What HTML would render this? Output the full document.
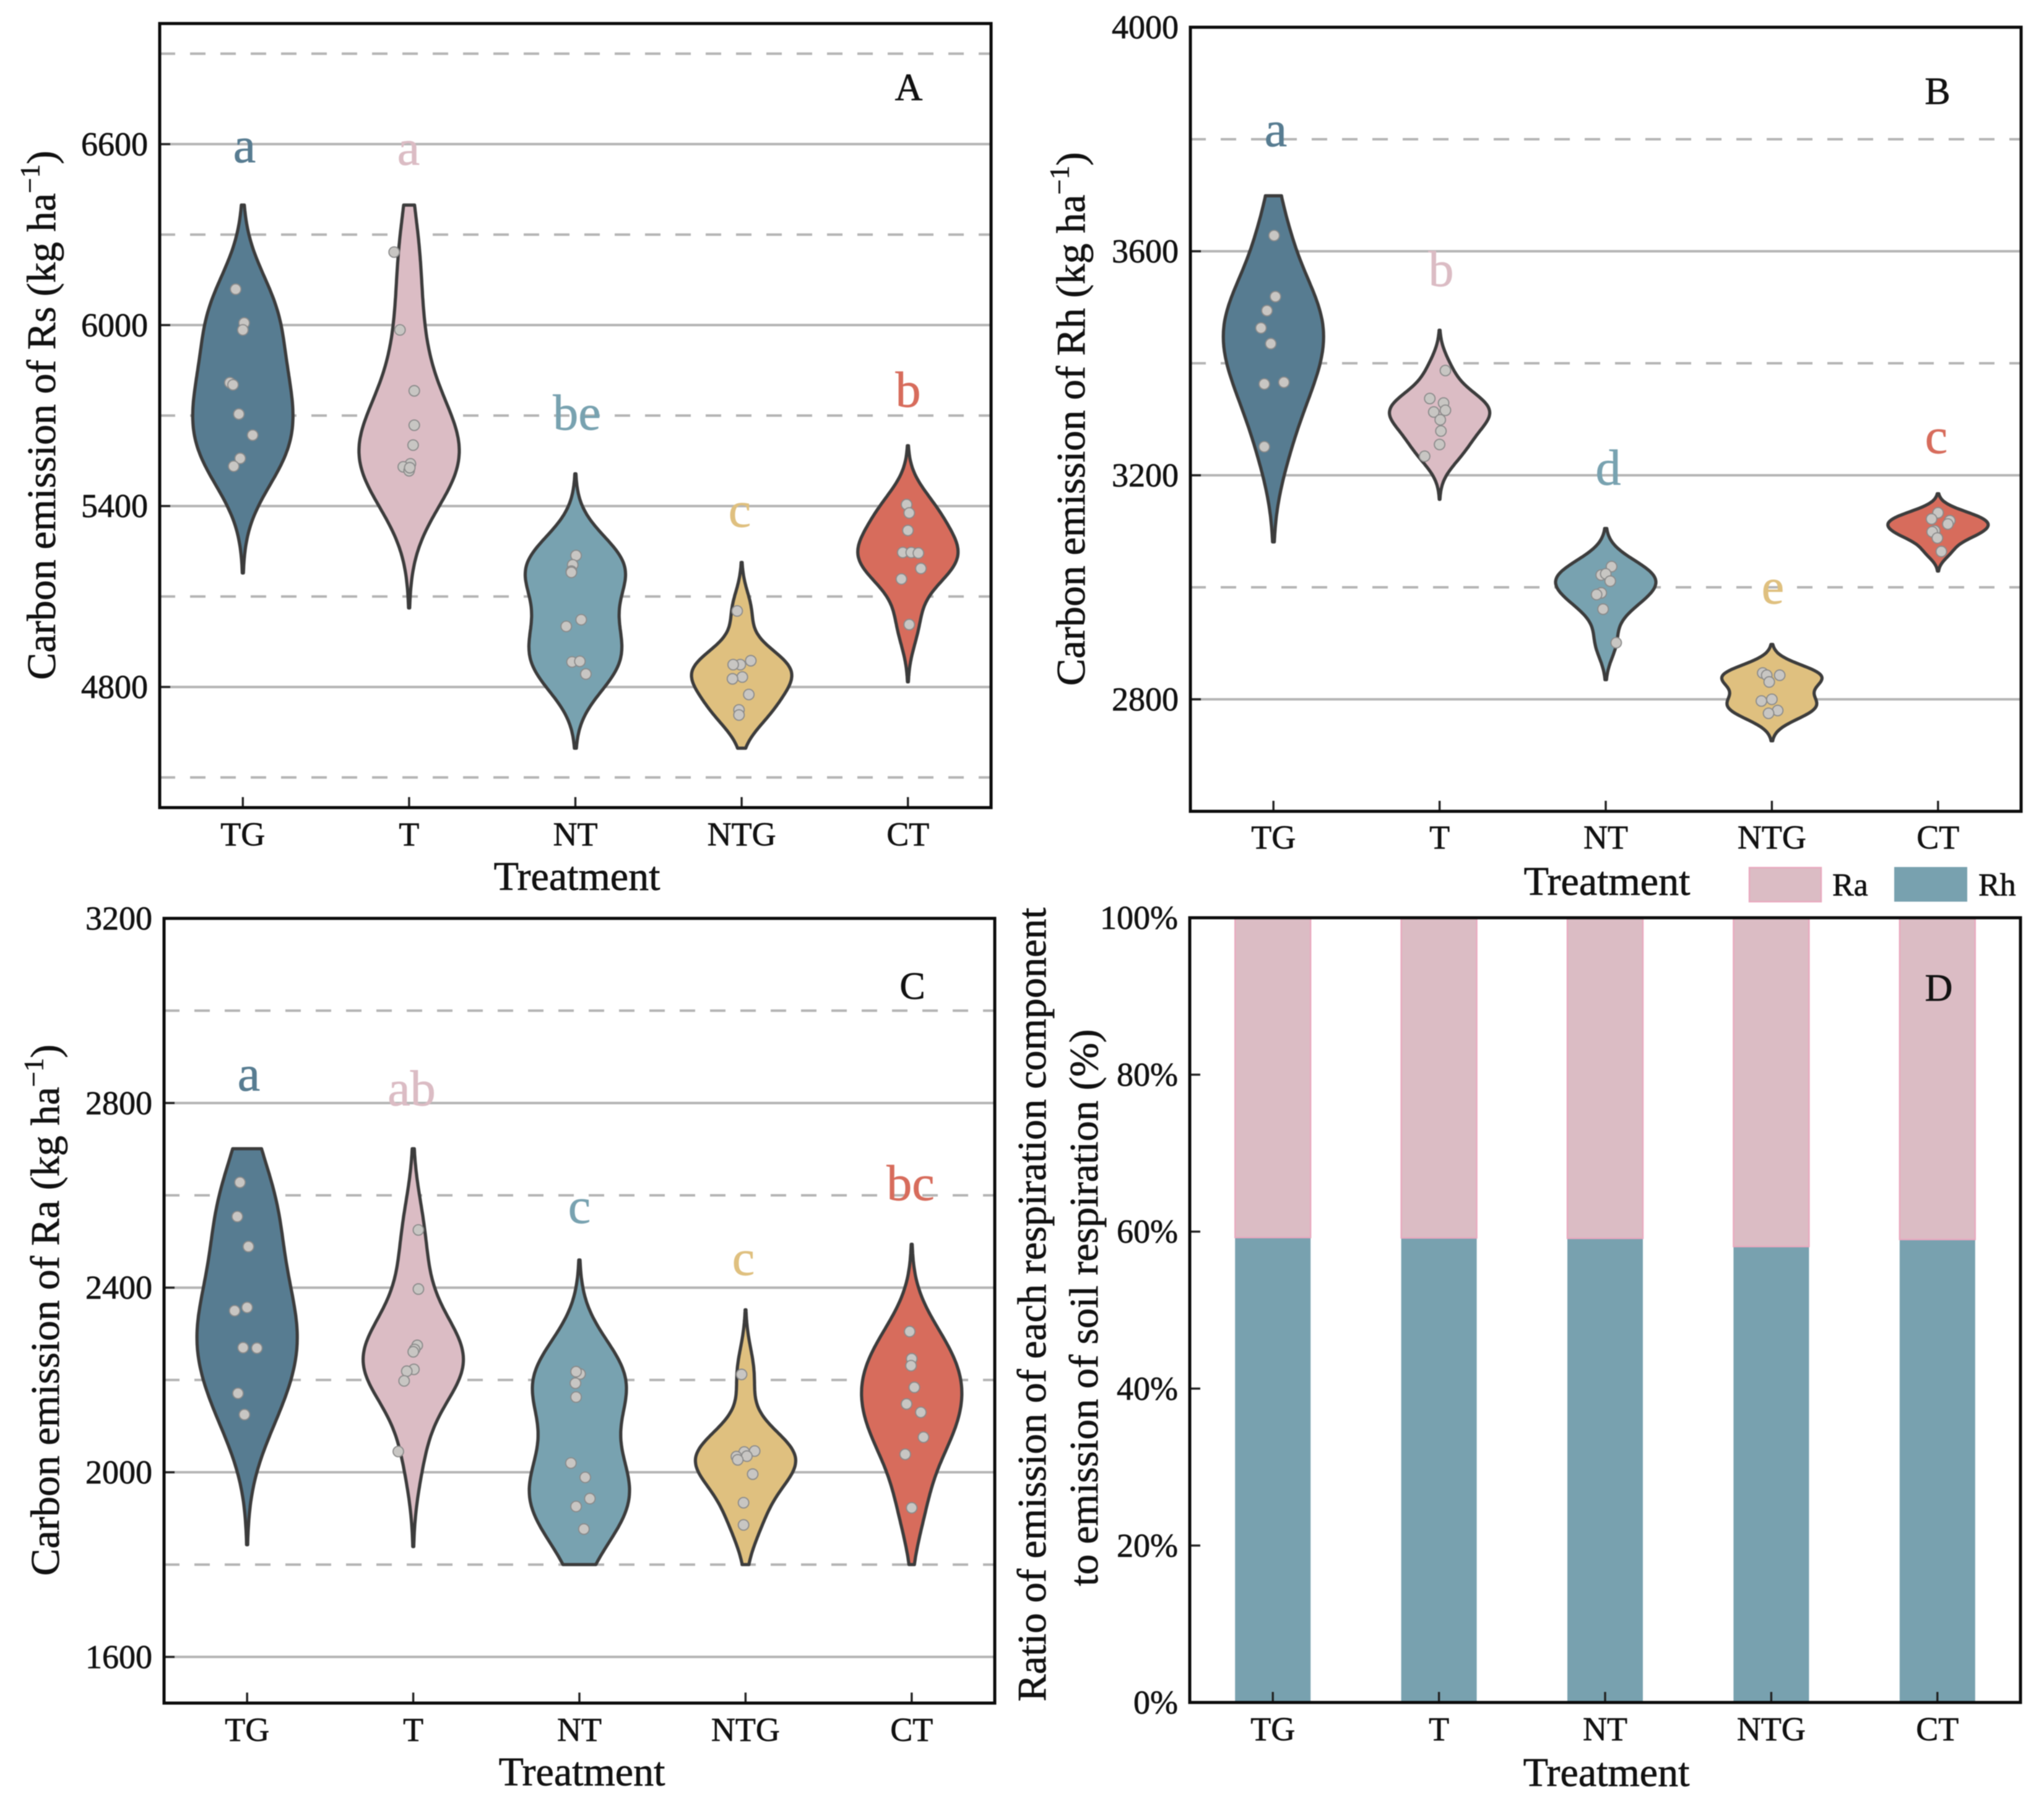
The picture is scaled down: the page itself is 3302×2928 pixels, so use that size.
<!DOCTYPE html>
<html lang="en">
<head>
<meta charset="utf-8">
<title>Carbon emission by treatment</title>
<style>
html,body{margin:0;padding:0;background:#fff}
svg{display:block;font-family:"Liberation Serif","Times New Roman",serif;filter:blur(.8px)}
text{stroke:#111;stroke-width:.7}
</style>
</head>
<body>
<svg id="figure" xmlns="http://www.w3.org/2000/svg" width="3302" height="2928" viewBox="0 0 3302 2928">
<rect width="3302" height="2928" fill="#fff"/>
</svg>
<script>
const categories = ['TG', 'T', 'NT', 'NTG', 'CT'];

const ticksA = [4800, 5400, 6000, 6600];
const dashedA = [4500, 5100, 5700, 6300, 6900];
const ticksB = [2800, 3200, 3600, 4000];
const dashedB = [3000, 3400, 3800];
const ticksC = [1600, 2000, 2400, 2800, 3200];
const dashedC = [1800, 2200, 2600, 3000];
const ticksD = [0, 20, 40, 60, 80, 100];

/* Panel A: Rs observations per treatment */
const rsTG = [6119, 6007, 5984, 5809, 5802, 5705, 5635, 5558, 5532];
const rsT = [6242, 5984, 5782, 5668, 5602, 5540, 5530, 5517, 5527];
const rsNT = [5236, 5205, 5184, 5180, 5023, 5001, 4883, 4885, 4843];
const rsNTG = [5052, 4887, 4874, 4874, 4833, 4827, 4775, 4724, 4707];
const rsCT = [5405, 5377, 5319, 5246, 5246, 5244, 5193, 5158, 5007];
const rsJitter = [
  [-.043, .008, 0, -.078, -.059, -.024, .059, -.016, -.055],
  [-.09, -.055, .031, .031, .024, .008, -.035, 0, .004],
  [.004, -.016, -.024, -.024, .035, -.055, -.02, .027, .063],
  [-.027, .055, -.008, -.051, .004, -.055, .043, -.016, -.016],
  [-.008, .008, 0, -.031, .02, .063, .078, -.039, .008]
];
const rsLow = [5178, 5062, 4597, 4597, 4817];
const rsHigh = [6398, 6398, 5507, 5213, 5600];
const rsLetters = ['a', 'a', 'be', 'c', 'b'];

/* Panel B: Rh observations per treatment */
const rhTG = [3628, 3519, 3494, 3463, 3435, 3363, 3366, 3251];
const rhT = [3387, 3337, 3329, 3313, 3316, 3299, 3279, 3255, 3234];
const rhNT = [3037, 3022, 3024, 3011, 2990, 2987, 2961, 2901];
const rhNTG = [2847, 2843, 2843, 2831, 2800, 2797, 2780, 2775];
const rhCT = [3133, 3122, 3119, 3113, 3101, 3099, 3088, 3064];
const rhJitter = [
  [.004, .012, -.039, -.075, -.016, -.055, .063, -.055],
  [.035, -.059, .024, -.035, .035, .004, .008, 0, -.09],
  [.035, -.027, 0, .027, -.027, -.055, -.016, .063],
  [-.055, .047, -.031, -.016, 0, -.063, .035, -.02],
  [0, -.039, .071, .059, -.02, -.035, -.004, .02]
];
const rhLow = [3081, 3157, 2835, 2726, 3029];
const rhHigh = [3699, 3459, 3105, 2898, 3167];
const rhLetters = ['a', 'b', 'd', 'e', 'c'];

/* Panel C: Ra observations per treatment */
const raTG = [2628, 2554, 2489, 2357, 2350, 2270, 2269, 2171, 2125];
const raT = [2525, 2397, 2275, 2266, 2261, 2223, 2219, 2198, 2045];
const raNT = [2213, 2218, 2193, 2163, 2020, 1989, 1943, 1926, 1877];
const raNTG = [2212, 2046, 2044, 2034, 2035, 2027, 1996, 1934, 1886];
const raCT = [2305, 2246, 2231, 2184, 2148, 2130, 2076, 2039, 1923];
const raJitter = [
  [-.043, -.059, .008, 0, -.075, -.024, .059, -.055, -.016],
  [.031, .031, .024, .008, 0, .004, -.039, -.055, -.09],
  [.004, -.02, -.024, -.02, -.051, .035, .063, -.02, .027],
  [-.024, .055, -.008, -.055, .008, -.047, .043, -.012, -.012],
  [-.012, 0, -.004, .016, -.031, .055, .071, -.039, 0]
];
const raLow = [1843, 1839, 1800, 1800, 1800];
const raHigh = [2701, 2701, 2460, 2352, 2494];
const raLetters = ['a', 'ab', 'c', 'c', 'bc'];

/* Panel D: share of soil respiration, percent */
const shareRh = [59.25, 59.2, 59.15, 58.1, 59.0];
const shareRa = [40.75, 40.8, 40.85, 41.9, 41.0];

const colors = ['#577c91', '#dbbcc4', '#78a2b0', '#dfc07f', '#d76c5c'];
const svg = document.getElementById('figure');
const NS = 'http://www.w3.org/2000/svg';

function node(parent, tag, props, text) {
  const el = document.createElementNS(NS, tag);
  for (const k in props) el.setAttribute(k, props[k]);
  if (text !== undefined) el.textContent = text;
  parent.appendChild(el);
  return el;
}

function linear(d0, d1, r0, r1) {
  return v => r0 + (v - d0) * (r1 - r0) / (d1 - d0);
}

function catX(box, i) {
  return box.left + (i + 0.5) * (box.right - box.left) / categories.length;
}

function std(a) {
  const m = a.reduce((s, v) => s + v, 0) / a.length;
  return Math.sqrt(a.reduce((s, v) => s + (v - m) * (v - m), 0) / (a.length - 1));
}

function violinPath(values, low, high, cx, yScale, halfWidth) {
  const bw = std(values) * Math.pow(values.length, -0.2);
  const steps = 140;
  const dens = [];
  let peak = 0;
  for (let s = 0; s <= steps; s++) {
    const level = low + (high - low) * s / steps;
    let d = 0;
    for (const v of values) {
      const z = (level - v) / bw;
      d += Math.exp(-0.5 * z * z);
    }
    dens.push([level, d]);
    if (d > peak) peak = d;
  }
  const left = dens.map(p => (cx - p[1] / peak * halfWidth).toFixed(1) + ',' + yScale(p[0]).toFixed(1));
  const right = dens.slice().reverse().map(p => (cx + p[1] / peak * halfWidth).toFixed(1) + ',' + yScale(p[0]).toFixed(1));
  return 'M' + left.concat(right).join('L') + 'Z';
}

function axisText(parent, x, y, text, size, anchor) {
  return node(parent, 'text', { x: x, y: y, 'font-size': size, 'text-anchor': anchor, fill: '#111' }, text);
}

function drawCommon(g, cfg, yScale) {
  for (const t of cfg.dashed || []) {
    const line = node(g, 'line', { x1: cfg.box.left, x2: cfg.box.right, y1: yScale(t), y2: yScale(t), stroke: '#b4b4b4', 'stroke-width': 4, 'stroke-dasharray': '25 24' });
    
    
  }
  for (const t of cfg.ticks) {
    if (cfg.grid) {
      const line = node(g, 'line', { x1: cfg.box.left, x2: cfg.box.right, y1: yScale(t), y2: yScale(t), stroke: '#b4b4b4', 'stroke-width': 4 });
      
      
    }
  }
}

function drawFrame(g, cfg, yScale) {
  for (const t of cfg.ticks) {
    const tick = node(g, 'line', { x1: cfg.box.left, x2: cfg.box.left + 17, y1: yScale(t), y2: yScale(t), stroke: '#222', 'stroke-width': 3.4 });
    
    
    const label = axisText(g, cfg.box.left - 19, yScale(t) + 18, t + (cfg.suffix || ''), 54, 'end');
    
    
  }
  categories.forEach((c, i) => {
    const x = catX(cfg.box, i);
    const tick = node(g, 'line', { x1: x, x2: x, y1: cfg.box.bottom, y2: cfg.box.bottom - 17, stroke: '#222', 'stroke-width': 3.4 });
    
    
    const label = axisText(g, x, cfg.catY, c, 54, 'middle');
    
    
  });
  const frame = node(g, 'rect', { x: cfg.box.left, y: cfg.box.top, width: cfg.box.right - cfg.box.left, height: cfg.box.bottom - cfg.box.top, fill: 'none', stroke: '#0c0c0c', 'stroke-width': 5 });
  
  
  const xTitle = axisText(g, cfg.titleX, cfg.titleY, 'Treatment', 66, 'middle');
  
  
  const letter = axisText(g, cfg.letterX, cfg.letterY, cfg.letter, 62, 'middle');
  
  
}

function drawYTitle(g, baseX, midY, name) {
  const t = node(g, 'text', { transform: 'translate(' + baseX + ',' + midY + ') rotate(-90)', 'text-anchor': 'middle', 'font-size': 66, fill: '#111' });
  
  
  node(t, 'tspan', {}, 'Carbon emission of ' + name + ' (kg ha');
  node(t, 'tspan', { 'font-size': 44, dy: -26 }, '\u22121');
  node(t, 'tspan', { dy: 26 }, ')');
}

function drawViolinPanel(cfg) {
  const g = node(svg, 'g', {});
  
  
  const yScale = linear(cfg.yMin, cfg.yMax, cfg.box.bottom, cfg.box.top);
  drawCommon(g, cfg, yScale);
  const slot = (cfg.box.right - cfg.box.left) / categories.length;
  categories.forEach((c, i) => {
    const cx = catX(cfg.box, i);
    const v = node(g, 'path', { d: violinPath(cfg.series[i], cfg.low[i], cfg.high[i], cx, yScale, 81), fill: colors[i], stroke: '#3c3c3c', 'stroke-width': 5.2, 'stroke-linejoin': 'round' });
    
    
    cfg.series[i].forEach((val, k) => {
      const p = node(g, 'circle', { cx: cx + cfg.jitter[i][k] * slot, cy: yScale(val), r: 8.5, fill: '#c8c6c3', stroke: '#8a8a8a', 'stroke-width': 1.8 });
      
      
    });
    const lab = node(g, 'text', { x: cfg.letterPosX[i], y: cfg.letterPosY[i], 'font-size': 82, 'text-anchor': 'middle', fill: colors[i] }, cfg.labels[i]);
    lab.style.stroke = colors[i];
    
    
  });
  drawFrame(g, cfg, yScale);
  drawYTitle(g, cfg.yTitleX, cfg.yTitleY, cfg.yName);
}

drawViolinPanel({
  name: 'panel-a-rs', letter: 'A', yName: 'Rs', grid: true,
  box: { left: 258, right: 1601, top: 38, bottom: 1305 },
  yMin: 4400, yMax: 7000, ticks: ticksA, dashed: dashedA,
  series: [rsTG, rsT, rsNT, rsNTG, rsCT], jitter: rsJitter, low: rsLow, high: rsHigh, labels: rsLetters,
  letterPosX: [395, 660, 932, 1195, 1467], letterPosY: [262, 266, 694, 851, 657],
  catY: 1366, titleX: 932, titleY: 1438, letterX: 1468, letterY: 162,
  yTitleX: 89, yTitleY: 671
});

drawViolinPanel({
  name: 'panel-b-rh', letter: 'B', yName: 'Rh', grid: true,
  box: { left: 1923, right: 3265, top: 44, bottom: 1311 },
  yMin: 2600, yMax: 4000, ticks: ticksB, dashed: dashedB,
  series: [rhTG, rhT, rhNT, rhNTG, rhCT], jitter: rhJitter, low: rhLow, high: rhHigh, labels: rhLetters,
  letterPosX: [2061, 2328, 2598, 2864, 3128], letterPosY: [236, 462, 783, 975, 732],
  catY: 1371, titleX: 2596, titleY: 1446, letterX: 3130, letterY: 168,
  yTitleX: 1752, yTitleY: 677
});

drawViolinPanel({
  name: 'panel-c-ra', letter: 'C', yName: 'Ra', grid: true,
  box: { left: 265, right: 1607, top: 1484, bottom: 2752 },
  yMin: 1500, yMax: 3200, ticks: ticksC, dashed: dashedC,
  series: [raTG, raT, raNT, raNTG, raCT], jitter: raJitter, low: raLow, high: raHigh, labels: raLetters,
  letterPosX: [402, 665, 936, 1201, 1471], letterPosY: [1762, 1786, 1976, 2060, 1939],
  catY: 2813, titleX: 940, titleY: 2885, letterX: 1474, letterY: 1614,
  yTitleX: 95, yTitleY: 2117
});

function drawSharePanel() {
  const cfg = {
    letter: 'D', ticks: ticksD, suffix: '%',
    box: { left: 1922, right: 3264, top: 1483, bottom: 2751 },
    catY: 2812, titleX: 2595, titleY: 2886, letterX: 3132, letterY: 1617
  };
  const g = node(svg, 'g', {});
  
  
  const yScale = linear(0, 100, cfg.box.bottom, cfg.box.top);
  const barW = 122;
  categories.forEach((c, i) => {
    const x = catX(cfg.box, i) - barW / 2;
    const rh = node(g, 'rect', { x: x, y: yScale(shareRh[i]), width: barW, height: yScale(0) - yScale(shareRh[i]), fill: '#78a1af' });
    
    
    const ra = node(g, 'rect', { x: x, y: yScale(shareRh[i] + shareRa[i]), width: barW, height: yScale(shareRh[i]) - yScale(shareRh[i] + shareRa[i]), fill: '#dbbcc4', stroke: '#e9a9bf', 'stroke-width': 2.4 });
    
    
  });
  drawFrame(g, cfg, yScale);
  const t1 = node(g, 'text', { transform: 'translate(1689,2108) rotate(-90)', 'text-anchor': 'middle', 'font-size': 66, fill: '#111' }, 'Ratio of emission of each respiration component');
  
  
  const t2 = node(g, 'text', { transform: 'translate(1773,2113) rotate(-90)', 'text-anchor': 'middle', 'font-size': 66, fill: '#111' }, 'to emission of soil respiration (%)');
  
  
  const swatchRa = node(g, 'rect', { x: 2826, y: 1402, width: 116, height: 55, fill: '#dbbcc4', stroke: '#e9a9bf', 'stroke-width': 2.4 });
  
  
  const labelRa = axisText(g, 2960, 1447, 'Ra', 52, 'start');
  
  
  const swatchRh = node(g, 'rect', { x: 3060, y: 1401, width: 118, height: 56, fill: '#78a1af' });
  
  
  const labelRh = axisText(g, 3196, 1447, 'Rh', 52, 'start');
  
  
}
drawSharePanel();
</script>
</body>
</html>
